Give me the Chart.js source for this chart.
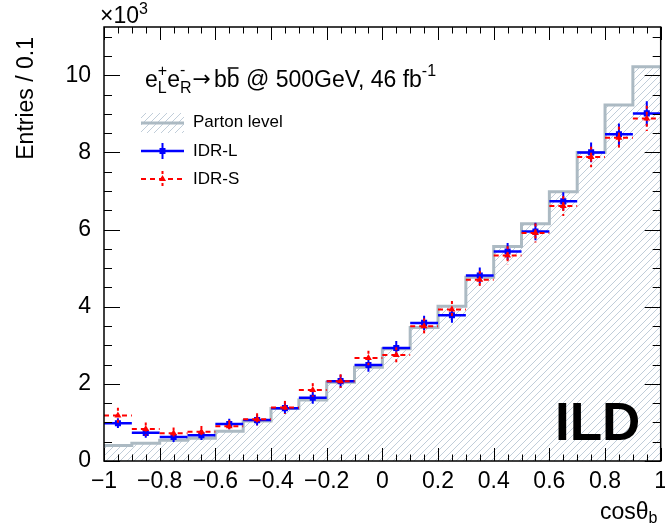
<!DOCTYPE html>
<html><head><meta charset="utf-8">
<script src="https://cdn.jsdelivr.net/npm/chart.js@4/dist/chart.umd.min.js"></script>
<style>html,body{margin:0;padding:0;background:#fff;}#wrap{position:relative;width:665px;height:525px;}</style>
</head><body><div id="wrap"><canvas id="c" width="665" height="525"></canvas></div>
<script>
// ---- data ----
const binEdges = [-1.0,-0.9,-0.8,-0.7,-0.6,-0.5,-0.4,-0.3,-0.2,-0.1,0.0,0.1,0.2,0.3,0.4,0.5,0.6,0.7,0.8,0.9,1.0];
const partonLevel = [0.40,0.46,0.54,0.59,0.77,1.04,1.36,1.58,2.04,2.43,2.91,3.46,4.01,4.76,5.56,6.15,6.98,8.00,9.23,10.22];
const idrL    = [0.98,0.73,0.62,0.67,0.96,1.06,1.37,1.64,2.07,2.49,2.93,3.58,3.78,4.81,5.43,5.95,6.73,8.00,8.47,9.01];
const idrLErr = [0.05,0.05,0.05,0.05,0.06,0.06,0.07,0.08,0.09,0.10,0.10,0.11,0.12,0.13,0.14,0.15,0.16,0.18,0.20,0.24];
const idrS    = [1.18,0.83,0.72,0.76,0.90,1.08,1.39,1.84,2.07,2.67,2.75,3.49,3.93,4.70,5.33,5.91,6.61,7.88,8.38,8.88];
const idrSErr = [0.12,0.09,0.07,0.07,0.08,0.08,0.09,0.10,0.10,0.11,0.12,0.13,0.14,0.15,0.16,0.17,0.18,0.19,0.21,0.25];
const xTickValues = [-1,-0.8,-0.6,-0.4,-0.2,0,0.2,0.4,0.6,0.8,1];
const xTickLabels = ['\u22121','\u22120.8','\u22120.6','\u22120.4','\u22120.2','0','0.2','0.4','0.6','0.8','1'];
const yTickValues = [0,2,4,6,8,10];
const yTickLabels = ['0','2','4','6','8','10'];
const seriesNames = ['Parton level','IDR-L','IDR-S'];

const FONT = '"Liberation Sans", Arial, sans-serif';
const GRAY = 'rgb(172,186,195)';
const HATCH = 'rgb(176,192,207)';

const binCenters = partonLevel.map((_, i) => (binEdges[i] + binEdges[i+1]) / 2);

const ctx0 = document.getElementById('c').getContext('2d');
function makeHatch(color, s) {
  const c = document.createElement('canvas'); c.width = s; c.height = s;
  const g = c.getContext('2d');
  g.strokeStyle = color; g.lineWidth = 0.8;
  g.beginPath();
  g.moveTo(-1, s + 1); g.lineTo(s + 1, -1);
  g.moveTo(-1, 1); g.lineTo(1, -1);
  g.moveTo(s - 1, s + 1); g.lineTo(s + 1, s - 1);
  g.stroke();
  return ctx0.createPattern(c, 'repeat');
}
const hatch = makeHatch(HATCH, 7);

const errPlugin = {
  id: 'errbars',
  beforeDatasetDraw(chart, args) {
    const ds = chart.data.datasets[args.index];
    if (!ds.errY) return;
    const xs = chart.scales.x, ys = chart.scales.y, ctx = chart.ctx;
    const a = chart.chartArea;
    ctx.save();
    ctx.beginPath(); ctx.rect(a.left, a.top, a.right - a.left, a.bottom - a.top); ctx.clip();
    ctx.strokeStyle = ds.borderColor;
    ds.data.forEach((p, i) => {
      const x0 = xs.getPixelForValue(binEdges[i]), x1 = xs.getPixelForValue(binEdges[i+1]);
      const yp = ys.getPixelForValue(p.y);
      ctx.setLineDash(ds.errDash || []);
      ctx.lineWidth = ds.hWidth;
      ctx.beginPath(); ctx.moveTo(x0, yp); ctx.lineTo(x1, yp); ctx.stroke();
      const xc = xs.getPixelForValue(p.x);
      const ya = ys.getPixelForValue(p.y + ds.errY[i]), yb = ys.getPixelForValue(p.y - ds.errY[i]);
      ctx.setLineDash(ds.vDash || []);
      ctx.lineWidth = ds.vWidth;
      ctx.beginPath(); ctx.moveTo(xc, ya - 3); ctx.lineTo(xc, yb + 3); ctx.stroke();
    });
    ctx.restore();
  }
};

function richText(ctx, x, y, pieces) {
  let cx = x;
  for (const p of pieces) {
    ctx.font = (p.bold ? 'bold ' : '') + p.size + 'px ' + (p.family || FONT);
    if (p.stack) {
      const w1 = ctx.measureText(p.stack[0]).width, w2 = ctx.measureText(p.stack[1]).width;
      ctx.fillText(p.stack[0], cx, y + p.dy[0]);
      ctx.fillText(p.stack[1], cx, y + p.dy[1]);
      cx += Math.max(w1, w2) + (p.gap || 0);
    } else {
      ctx.fillText(p.t, cx, y + (p.dy || 0));
      const w = ctx.measureText(p.t).width;
      if (p.over) {
        ctx.save(); ctx.lineWidth = 1.5; ctx.strokeStyle = '#000';
        ctx.beginPath(); ctx.moveTo(cx + 1, y - p.over); ctx.lineTo(cx + w - 1, y - p.over); ctx.stroke(); ctx.restore();
      }
      cx += w + (p.gap || 0);
    }
  }
  return cx;
}

const decorPlugin = {
  id: 'decor',
  afterDraw(chart) {
    const {ctx, chartArea: a, scales: {x, y}} = chart;
    ctx.save();
    ctx.strokeStyle = '#000'; ctx.lineWidth = 1;
    const line = (x1, y1, x2, y2) => { ctx.beginPath(); ctx.moveTo(x1, y1); ctx.lineTo(x2, y2); ctx.stroke(); };
    // x ticks
    for (let i = 0; i <= 40; i++) {
      const v = -1 + i * 0.05;
      const px = Math.round(x.getPixelForValue(v)) + 0.5;
      const L = (i % 4 === 0) ? 13 : 6.5;
      line(px, a.bottom, px, a.bottom - L);
      line(px, a.top, px, a.top + L);
    }
    // y ticks
    for (let i = 0; i * 0.5 <= y.max; i++) {
      const v = i * 0.5;
      const py = Math.round(y.getPixelForValue(v)) + 0.5;
      const L = (i % 4 === 0) ? 16 : 8;
      line(a.left, py, a.left + L, py);
      line(a.right, py, a.right - L, py);
    }
    ctx.lineWidth = 1.5;
    ctx.strokeRect(a.left, a.top, a.right - a.left, a.bottom - a.top);
    ctx.fillStyle = '#000';
    ctx.textBaseline = 'alphabetic'; ctx.textAlign = 'left';
    // exponent
    richText(ctx, 100, 23, [{t: '\u00d710', size: 23}, {t: '3', size: 16, dy: -9}]);
    // title
    richText(ctx, 145, 87, [
      {t: 'e', size: 23}, {stack: ['+', 'L'], size: 16, dy: [-11, 6]},
      {t: 'e', size: 23}, {stack: ['-', 'R'], size: 16, dy: [-12, 6], gap: 1},
      {t: '\u2192', size: 22, family: '"DejaVu Sans"', dy: -1, gap: 3}, {t: 'b', size: 23}, {t: 'b', size: 23, over: 19},
      {t: ' @ 500GeV, 46 fb', size: 23}, {t: '-1', size: 16, dy: -11}
    ]);
    // legend
    const lx0 = 141, lx1 = 184, lxm = 162.5;
    ctx.fillStyle = hatch; ctx.fillRect(lx0, 113, lx1 - lx0, 20);
    ctx.strokeStyle = GRAY; ctx.lineWidth = 3; line(lx0, 123, lx1, 123);
    ctx.strokeStyle = '#0000ff'; ctx.lineWidth = 2.5; line(lx0, 151, lx1, 151);
    ctx.lineWidth = 2; line(lxm, 143, lxm, 159);
    ctx.fillStyle = '#0000ff'; ctx.fillRect(lxm - 3, 148, 6, 6);
    ctx.strokeStyle = '#ff0000'; ctx.lineWidth = 2; ctx.setLineDash([5, 4]); line(lx0, 179, lx1, 179);
    ctx.setLineDash([3, 3]); line(lxm, 171, lxm, 188); ctx.setLineDash([]);
    ctx.fillStyle = '#ff0000'; ctx.beginPath(); ctx.moveTo(lxm, 175); ctx.lineTo(lxm + 3.5, 181); ctx.lineTo(lxm - 3.5, 181); ctx.closePath(); ctx.fill();
    ctx.fillStyle = '#000'; ctx.font = '17px ' + FONT; ctx.textBaseline = 'middle';
    ctx.fillText(seriesNames[0], 193, 122);
    ctx.fillText(seriesNames[1], 193, 151);
    ctx.fillText(seriesNames[2], 193, 179);
    ctx.textBaseline = 'alphabetic';
    // ILD
    ctx.font = 'bold 53px ' + FONT; ctx.fillText('ILD', 555, 440);
    // x title
    richText(ctx, 600, 519, [{t: 'cos\u03b8', size: 23}, {t: 'b', size: 16, dy: 4}]);
    // y title
    ctx.save(); ctx.translate(33, 37); ctx.rotate(-Math.PI / 2);
    ctx.font = '23px ' + FONT; ctx.textAlign = 'right'; ctx.fillText('Entries / 0.1', 0, 0);
    ctx.restore();
    ctx.restore();
  }
};

new Chart(ctx0, {
  data: {
    datasets: [
      {
        type: 'line', label: seriesNames[0], order: 3,
        data: binEdges.map((e, i) => ({x: e, y: partonLevel[Math.min(i, partonLevel.length - 1)]})),
        stepped: true, borderColor: GRAY, borderWidth: 3, pointRadius: 0,
        fill: 'origin', backgroundColor: hatch
      },
      {
        type: 'line', label: seriesNames[1], order: 2, showLine: false,
        data: binCenters.map((c, i) => ({x: c, y: idrL[i]})),
        errY: idrLErr, hWidth: 2.5, vWidth: 2,
        borderColor: '#0000ff', backgroundColor: '#0000ff',
        pointStyle: 'rect', pointRadius: 4.3, pointBorderWidth: 0
      },
      {
        type: 'line', label: seriesNames[2], order: 1, showLine: false,
        data: binCenters.map((c, i) => ({x: c, y: idrS[i]})),
        errY: idrSErr, hWidth: 2, vWidth: 2, errDash: [5, 4], vDash: [3, 3],
        borderColor: '#ff0000', backgroundColor: '#ff0000',
        pointStyle: 'triangle', pointRadius: 4, pointBorderWidth: 0
      }
    ]
  },
  options: {
    responsive: false, animation: false, devicePixelRatio: 1,
    layout: {padding: {top: 27, right: 4, left: 0, bottom: 0}},
    plugins: {legend: {display: false}, tooltip: {enabled: false}},
    scales: {
      x: {
        type: 'linear', min: -1, max: 1,
        grid: {display: false, drawTicks: false, tickLength: 0}, border: {display: false},
        afterBuildTicks: s => { s.ticks = xTickValues.map(v => ({value: v})); },
        afterFit: s => { s.height = 64; s.paddingLeft = 0; s.paddingRight = 0; },
        ticks: {autoSkip: false, maxRotation: 0, padding: 7, color: '#000', font: {family: FONT, size: 23},
          callback: (v, i) => xTickLabels[i]}
      },
      y: {
        type: 'linear', min: 0, max: 11.25,
        grid: {display: false, drawTicks: false, tickLength: 0}, border: {display: false},
        afterBuildTicks: s => { s.ticks = yTickValues.map(v => ({value: v})); },
        afterFit: s => { s.width = 104; s.paddingTop = 0; s.paddingBottom = 0; },
        ticks: {autoSkip: false, padding: 13, color: '#000', font: {family: FONT, size: 23},
          callback: (v, i) => yTickLabels[i]}
      }
    }
  },
  plugins: [errPlugin, decorPlugin]
});
</script></body></html>
